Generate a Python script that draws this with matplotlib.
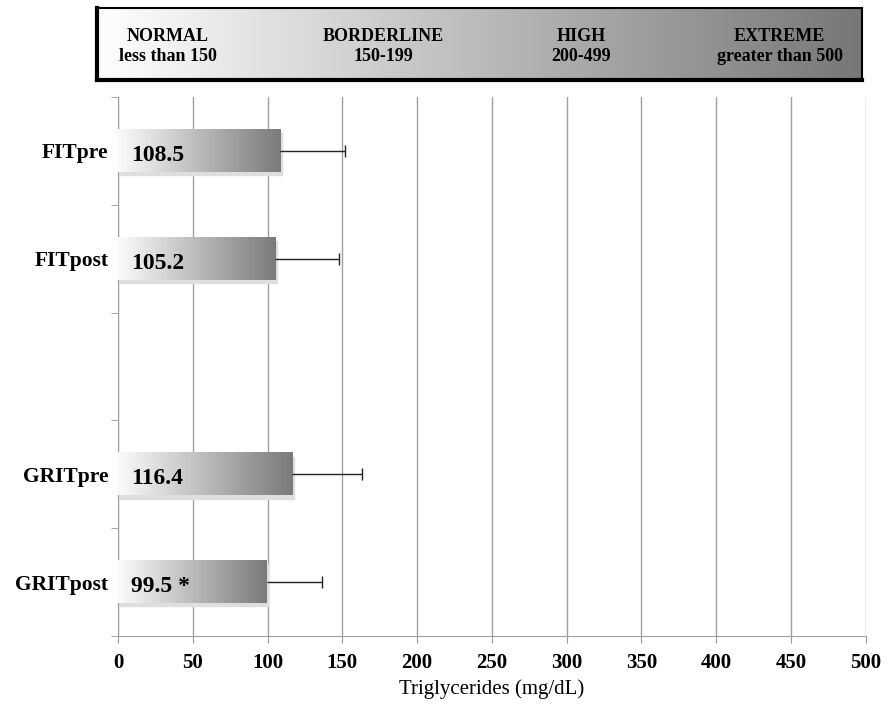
import numpy as np
import matplotlib
matplotlib.use("Agg")
import matplotlib.pyplot as plt
from matplotlib.patches import Rectangle

# data
groups = ["FITpre", "FITpost", "", "GRITpre", "GRITpost"]
means = [108.5, 105.2, None, 116.4, 99.5]
errors = [43.0, 42.5, None, 47.0, 37.0]
value_labels = ["108.5", "105.2", "", "116.4", "99.5 *"]
xticks = [0, 50, 100, 150, 200, 250, 300, 350, 400, 450, 500]
ranges = ["NORMAL", "BORDERLINE", "HIGH", "EXTREME"]
range_text = ["less than 150", "150-199", "200-499", "greater than 500"]

plt.rcParams['font.family'] = ['Liberation Serif', 'DejaVu Serif']

fig = plt.figure(figsize=(8.88, 7.08), dpi=100)
ax = fig.add_axes([0.1329, 0.1017, 0.975 - 0.1329, 0.863 - 0.1017])

ypos = np.arange(len(groups))
bar_h = 0.39
grad = np.linspace(0, 1, 256).reshape(1, -1)
cmap = matplotlib.colors.LinearSegmentedColormap.from_list("g", ["#fbfbfb", "#7a7a7a"])

for y, m, e, lab in zip(ypos, means, errors, value_labels):
    if m is None:
        continue
    # soft shadow
    ax.add_patch(Rectangle((0, y - bar_h / 2 + 0.03), m + 1, bar_h, color="#dedede", zorder=2))
    ax.imshow(grad, cmap=cmap, aspect="auto", extent=(0, m, y + bar_h / 2, y - bar_h / 2),
              zorder=3, interpolation="bilinear")
    # one-sided error bar, cap only at the far end
    ax.hlines(y, m, m + e, color="#222222", linewidth=1, zorder=4)
    ax.plot([m + e], [y], marker="|", markersize=8, color="#222222", zorder=4)
    ax.text(9, y + 0.04, lab, ha="left", va="center", fontsize=17, fontweight="bold", zorder=5)

ax.set_xlim(0, 500)
ax.set_ylim(len(groups) - 0.5, -0.5)
ax.set_xticks(xticks)
ax.set_xticklabels([str(t) for t in xticks], fontsize=15, fontweight="bold")
ax.set_yticks(ypos)
ax.set_yticklabels(groups, fontsize=15.5, fontweight="bold")
ax.tick_params(axis="y", length=0, pad=7)
ax.set_yticks(np.arange(-0.5, len(groups), 1), minor=True)
ax.tick_params(axis="y", which="minor", length=5, color="#999999")
ax.tick_params(axis="x", length=5, color="#999999", direction="out", pad=7)
ax.grid(axis="x", color="#a0a0a0", linewidth=1, zorder=0)
ax.set_axisbelow(True)
for s in ["top", "right"]:
    ax.spines[s].set_visible(False)
ax.spines["left"].set_color("#a0a0a0")
ax.spines["bottom"].set_color("#a0a0a0")
ax.set_xlabel("Triglycerides (mg/dL)", fontsize=15, labelpad=5)

# category legend box at top
bx = fig.add_axes([0.109, 0.887, 0.971 - 0.109, 0.989 - 0.887])
bx.imshow(grad, cmap=matplotlib.colors.LinearSegmentedColormap.from_list("b", ["#ffffff", "#777777"]),
          aspect="auto", extent=(0, 1, 0, 1))
bx.set_xlim(0, 1)
bx.set_ylim(0, 1)
bx.set_xticks([])
bx.set_yticks([])
for s in bx.spines.values():
    s.set_linewidth(1.5)
bx.spines["left"].set_linewidth(3)
bx.spines["bottom"].set_linewidth(3)
cx = [0.093, 0.374, 0.633, 0.892]
for x, a, b in zip(cx, ranges, range_text):
    bx.text(x, 0.60, a, ha="center", va="center", fontsize=13, fontweight="bold")
    bx.text(x, 0.32, b, ha="center", va="center", fontsize=13, fontweight="bold")

fig.savefig("out.png", dpi=100)
